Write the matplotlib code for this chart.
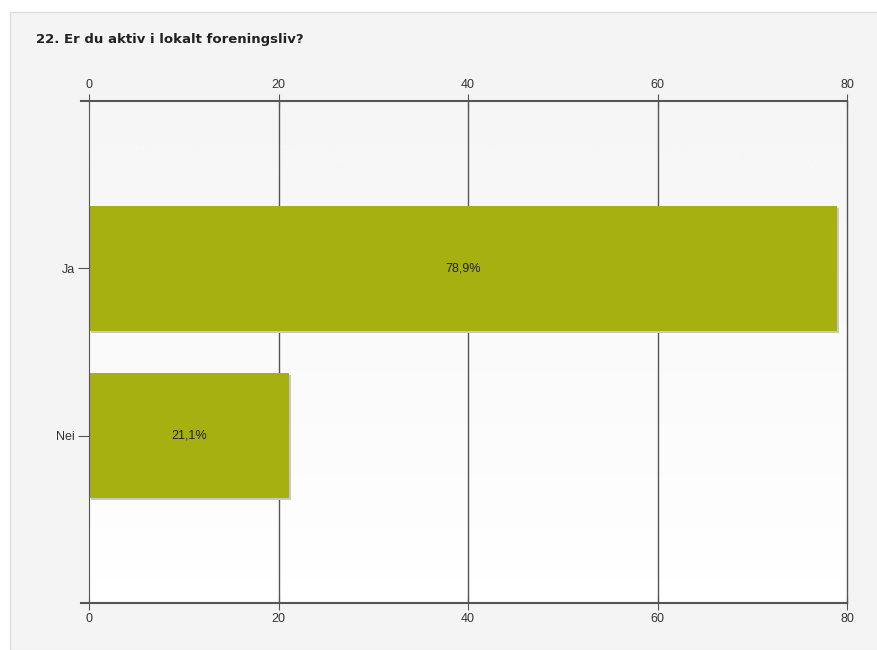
import numpy as np
import matplotlib.pyplot as plt
from matplotlib.patches import Rectangle
from matplotlib.lines import Line2D

title = "22. Er du aktiv i lokalt foreningsliv?"
categories = ["Ja", "Nei"]
values = [78.9, 21.1]
labels = ["78,9%", "21,1%"]
xticks = [0, 20, 40, 60, 80]

bar_color = "#a6b010"
axis_color = "#555555"

fig = plt.figure(figsize=(8.77, 6.5), dpi=100)
fig.patch.set_facecolor("white")

# outer panel, kept behind the axes
fig.add_artist(Rectangle((10 / 877, 0), 1, 1 - 12 / 650, transform=fig.transFigure,
                         facecolor="#f4f4f4", edgecolor="#dddddd", lw=1, zorder=-10))
fig.text(36 / 877, 1 - 40 / 650, title, fontsize=9.5, fontweight="bold",
         color="#222222", va="center", ha="left", family="DejaVu Sans")

ax = fig.add_axes([89 / 877, 1 - 603 / 650, 758 / 877, 502 / 650])

# background gradient, light grey at top fading to white
grad = np.linspace(0, 1, 256).reshape(-1, 1)
ax.imshow(grad, extent=(0, 80, 3, 0), aspect="auto", cmap="Greys_r",
          vmin=-12, vmax=1, zorder=0, interpolation="bilinear")
ax.set_xlim(0, 80)
ax.set_ylim(3, 0)

ypos = np.arange(1, len(categories) + 1)
# soft shadow under the bars
ax.barh(ypos + 0.012, values, height=0.75, left=0.25, color="#c8c8c8", zorder=2)
ax.barh(ypos, values, height=0.75, color=bar_color, zorder=3)
for y, v, lab in zip(ypos, values, labels):
    ax.text(v / 2, y, lab, ha="center", va="center", fontsize=9,
            color="#222222", family="Liberation Sans", zorder=4)

for x in xticks[1:]:
    ax.axvline(x, color=axis_color, lw=1, zorder=1, clip_on=False)

for s in ax.spines.values():
    s.set_visible(False)
ax.spines["left"].set_visible(True)
ax.spines["left"].set_color(axis_color)
ax.spines["left"].set_zorder(5)

# top and bottom axis lines reach a bit past the left edge
for yy in (0, 1):
    ax.add_line(Line2D([-0.011, 1], [yy, yy], transform=ax.transAxes, color=axis_color,
                       lw=1.5, clip_on=False, zorder=5))

ax.set_xticks(xticks)
ax.tick_params(axis="x", top=True, labeltop=True, bottom=True, labelbottom=True,
               direction="inout", length=10, color=axis_color, labelsize=9,
               labelcolor="#333333", pad=2)
ax.set_yticks(ypos)
ax.set_yticklabels(categories)
ax.tick_params(axis="y", direction="out", length=8, color=axis_color, labelsize=9,
               labelcolor="#333333", pad=2)
for t in ax.get_xticklabels() + ax.get_yticklabels():
    t.set_family("Liberation Sans")

fig.savefig("out.png", dpi=100)
